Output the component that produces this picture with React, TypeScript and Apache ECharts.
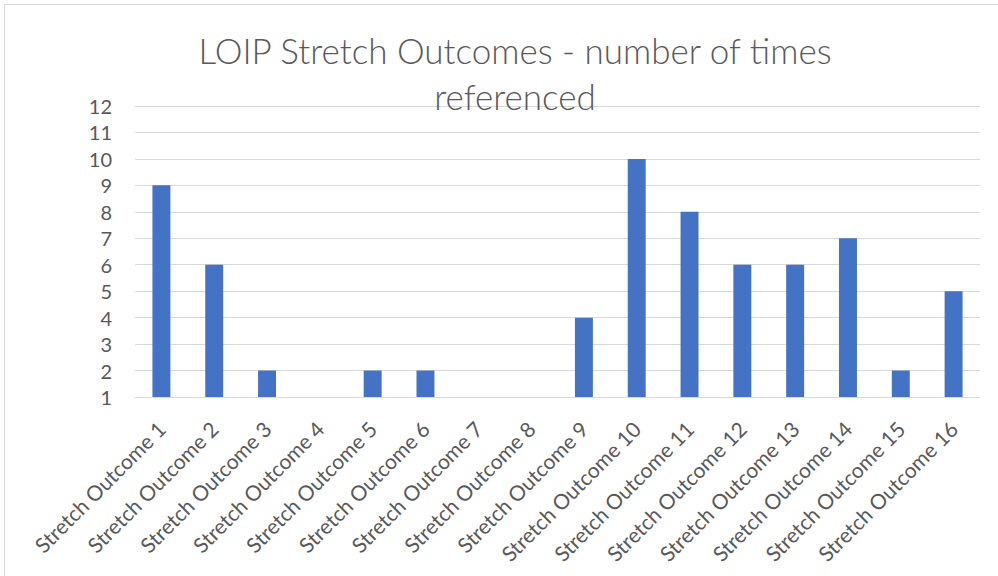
import React, { useEffect, useRef } from "react";
import * as echarts from "echarts";

const categories = [
  "Stretch Outcome 1", "Stretch Outcome 2", "Stretch Outcome 3", "Stretch Outcome 4",
  "Stretch Outcome 5", "Stretch Outcome 6", "Stretch Outcome 7", "Stretch Outcome 8",
  "Stretch Outcome 9", "Stretch Outcome 10", "Stretch Outcome 11", "Stretch Outcome 12",
  "Stretch Outcome 13", "Stretch Outcome 14", "Stretch Outcome 15", "Stretch Outcome 16",
];
const timesReferenced = [9, 6, 2, 0, 2, 2, 0, 0, 4, 10, 8, 6, 6, 7, 2, 5];
const titleText = "LOIP Stretch Outcomes - number of times\nreferenced";
const yMin = 1;
const yMax = 12;

const FONT = "Lato";

export default function App() {
  const ref = useRef<HTMLDivElement>(null);
  useEffect(() => {
    if (!ref.current) return;
    const chart = echarts.init(ref.current, null, { renderer: "svg" });
    chart.setOption({
      animation: false,
      backgroundColor: "#ffffff",
      title: {
        text: titleText,
        left: 510,
        top: 22,
        textAlign: "center",
        textStyle: {
          fontFamily: FONT,
          fontSize: 35,
          fontWeight: 300,
          color: "#595959",
          lineHeight: 46,
        },
      },
      graphic: [
        {
          type: "rect",
          shape: { x: 4.5, y: 4.5, width: 1000, height: 600 },
          style: { fill: "none", stroke: "#d9d9d9", lineWidth: 1 },
          silent: true,
          z: -1,
        },
      ],
      grid: { left: 135, right: 18, top: 106, bottom: 179, containLabel: false },
      xAxis: {
        type: "category",
        data: categories,
        axisLine: { show: true, lineStyle: { color: "#d9d9d9", width: 1 } },
        axisTick: { show: false },
        axisLabel: {
          rotate: 45,
          interval: 0,
          margin: 28,
          fontFamily: FONT,
          fontSize: 21,
          color: "#595959",
        },
      },
      yAxis: {
        type: "value",
        min: yMin,
        max: yMax,
        interval: 1,
        axisLine: { show: false },
        axisTick: { show: false },
        splitLine: { lineStyle: { color: "#d9d9d9", width: 1 } },
        axisLabel: {
          margin: 23,
          fontFamily: FONT,
          fontSize: 20,
          color: "#595959",
        },
      },
      series: [
        {
          type: "bar",
          data: timesReferenced,
          barWidth: "34%",
          clip: true,
          itemStyle: { color: "#4472c4" },
        },
      ],
    });
    return () => chart.dispose();
  }, []);
  return (
    <div
      ref={ref}
      style={{ position: "fixed", left: 0, top: 0, width: 998, height: 576 }}
    />
  );
}
